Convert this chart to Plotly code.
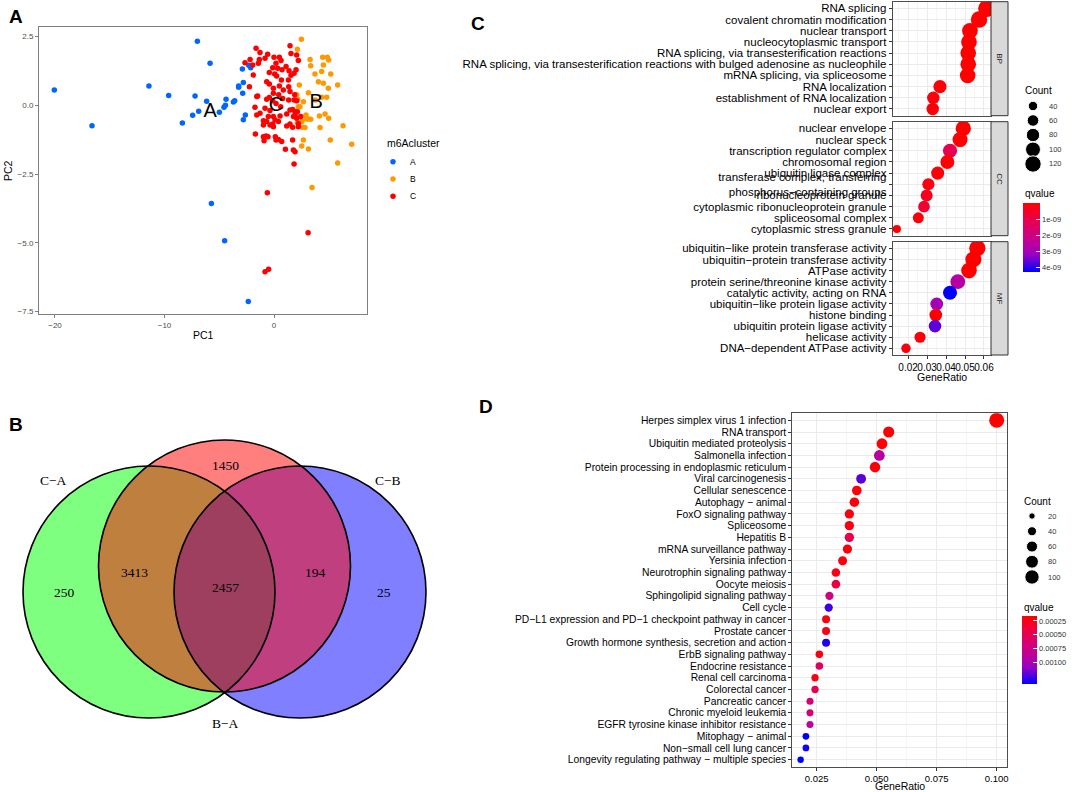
import plotly.graph_objects as go

W, H = 1072, 792
def px_x(p): return p / W
def px_y(p): return 1 - p / H

FONT = "Liberation Sans, Arial, sans-serif"
SERIF = "Liberation Serif, Times New Roman, serif"

# ---------------- Panel A data (PCA) ----------------
clusterA_pc1 = [-20.06, -16.62, -7.0, -5.84, -11.42, -9.62, -7.21, -6.15, -6.88, -7.43, -8.37, -4.99, -4.44,
                -4.38, -4.57, -3.71, -3.59, -3.23, -3.23, -2.86, -2.80, -2.89, -2.31, -2.13, -2.62, -2.80,
                -5.72, -4.51, -2.35]
clusterA_pc2 = [0.56, -0.74, 2.33, 1.53, 0.70, 0.36, 0.34, 0.15, -0.22, -0.36, -0.64, -0.25, 0.0,
                0.22, -0.07, 0.12, 0.17, 0.66, 0.70, 0.44, 0.83, 1.32, 1.46, 1.37, -0.35, -0.53,
                -3.57, -4.93, -7.14]
clusterB_pc1 = [2.50, 2.13, 3.29, 3.35, 4.44, 4.87, 4.99, 4.51, 4.35, 5.18, 3.74, 2.31, 4.05, 4.51, 4.96,
                5.81, 2.07, 2.16, 2.68, 3.14, 4.35, 4.81, 3.77, 2.37, 2.92, 3.14, 3.35, 2.53, 2.62, 4.14,
                4.66, 4.99, 4.20, 6.30, 7.09, 5.14, 2.68, 2.53, 3.14, 5.81, 3.47, 2.22, 2.13, 2.92, 2.83]
clusterB_pc2 = [2.40, 2.04, 1.67, 1.44, 1.75, 1.75, 1.65, 1.47, 1.23, 1.14, 1.14, 0.74, 0.86, 0.80, 0.62,
                0.74, 0.38, 0.22, 0.13, 0.46, 0.29, 0.29, 0.19, -0.05, -0.35, -0.50, -0.51, -0.59, -0.80, -0.39,
                -0.32, -0.47, -0.81, -0.74, -1.42, -1.26, -1.26, -1.48, -1.59, -2.10, -2.99, -0.05, -0.63, -0.50, -0.81]
clusterC_pc1 = [-1.64, -1.28, -2.19, -2.65, -1.95, -1.34, -1.43, -0.82, -0.58, 0.00, 0.49, 0.64, 0.18, 1.46,
                1.55, 2.07, 2.22, -0.12, 0.33, -0.43, 0.06, 0.73, 1.10, 1.37, 2.01, 1.83, 1.55, -1.89, -2.25,
                -0.67, -0.43, 0.24, 0.67, 1.31, 1.34, -0.06, 0.49, 0.85, 1.46, 1.89, -1.49, -1.58, -0.67,
                -0.43, -0.06, 0.43, -0.12, 0.79, 0.18, 0.61, 1.34, 1.83, 2.07, -1.74, -1.28, -1.58, -0.82,
                -0.37, -0.52, -0.97, -0.06, 0.55, -0.67, -0.12, 0.09, 0.40, 1.16, 1.46, 1.70, 1.92, 2.13,
                1.77, 2.07, 2.22, 1.46, 1.16, 1.70, 2.22, 2.44, 1.92, -0.06, -0.37, -0.97, -1.70, -0.97,
                -0.73, -0.55, 0.12, 0.40, 0.70, 0.18, 1.70, 1.77, 1.92, 1.04, -0.91, 1.83, -0.61, 3.11,
                -0.82, -0.49]
clusterC_pc2 = [2.08, 1.92, 1.67, 1.55, 1.47, 1.67, 1.53, 1.71, 1.86, 1.75, 1.75, 1.63, 1.53, 2.17,
                1.89, 1.83, 1.63, 1.37, 1.35, 1.19, 1.14, 1.29, 1.41, 1.26, 1.29, 1.17, 1.09, 1.10, 0.68,
                0.86, 0.78, 1.07, 0.92, 0.92, 0.68, 0.62, 0.70, 0.56, 0.50, 0.38, 0.34, 0.32, 0.22,
                0.28, 0.44, 0.38, 0.17, 0.25, 0.07, -0.05, 0.19, 0.19, 0.17, -0.07, -0.29, -0.35, -0.11,
                -0.19, -0.41, -0.56, -0.41, -0.39, -0.59, -0.68, -0.53, -0.59, -0.32, -0.17, -0.15, -0.23, -0.23,
                -0.41, -0.47, -0.66, -0.68, -0.75, -0.80, -0.78, -0.41, -0.35, -0.78, -0.72, -0.72, -1.04, -1.14,
                -1.12, -1.14, -1.14, -1.24, -1.32, -1.26, -1.26, -1.63, -1.69, -1.60, -1.29, -2.14, -3.18, -4.64,
                -6.06, -5.97]
cluster_names = ["A", "B", "C"]
cluster_colors = ["#0066FF", "#FF9900", "#FF0000"]
cluster_label_pc1 = [-5.84, 3.84, 0.18]
cluster_label_pc2 = [-0.24, 0.08, -0.03]
pc1_ticks = [-20, -10, 0]
pc2_ticks = [2.5, 0.0, -2.5, -5.0, -7.5]

# ---------------- Panel B data (Venn) ----------------
venn_set_names = ["C−A", "B−A", "C−B"]
venn_only_CA = 250
venn_only_BA = 1450
venn_only_CB = 25
venn_CA_BA = 3413
venn_BA_CB = 194
venn_all = 2457

# ---------------- Panel C data (GO) ----------------
bp_terms = ["RNA splicing", "covalent chromatin modification", "nuclear transport",
            "nucleocytoplasmic transport", "RNA splicing, via transesterification reactions",
            "RNA splicing, via transesterification reactions with bulged adenosine as nucleophile",
            "mRNA splicing, via spliceosome", "RNA localization", "establishment of RNA localization",
            "nuclear export"]
bp_ratio = [0.0614, 0.0574, 0.0526, 0.0521, 0.0517, 0.0517, 0.0514, 0.0368, 0.0333, 0.0330]
bp_count = [129, 121, 111, 110, 109, 109, 108, 77, 70, 69]
bp_q = [1e-13, 5e-11, 1e-12, 2e-12, 1e-12, 1e-12, 1e-12, 8e-11, 1.5e-10, 1.2e-10]

cc_terms = ["nuclear envelope", "nuclear speck", "transcription regulator complex", "chromosomal region",
            "ubiquitin ligase complex", "transferase complex, transferring phosphorus−containing groups",
            "ribonucleoprotein granule", "cytoplasmic ribonucleoprotein granule", "spliceosomal complex",
            "cytoplasmic stress granule"]
cc_ratio = [0.0491, 0.0474, 0.0421, 0.0407, 0.0356, 0.0307, 0.0298, 0.0284, 0.0254, 0.0141]
cc_count = [105, 101, 90, 87, 76, 66, 64, 61, 54, 30]
cc_q = [1e-12, 1e-11, 1.1e-9, 5e-11, 1e-10, 2.5e-10, 3.5e-10, 6.5e-10, 1e-10, 5e-11]

mf_terms = ["ubiquitin−like protein transferase activity", "ubiquitin−protein transferase activity",
            "ATPase activity", "protein serine/threonine kinase activity", "catalytic activity, acting on RNA",
            "ubiquitin−like protein ligase activity", "histone binding", "ubiquitin protein ligase activity",
            "helicase activity", "DNA−dependent ATPase activity"]
mf_ratio = [0.0565, 0.0544, 0.0521, 0.0462, 0.0421, 0.0351, 0.0346, 0.0342, 0.0263, 0.0189]
mf_count = [118, 114, 109, 97, 88, 73, 72, 71, 55, 40]
mf_q = [1e-12, 1e-12, 1e-11, 2.6e-9, 4.3e-9, 3.0e-9, 5e-11, 3.65e-9, 1e-10, 1e-10]

go_facets = ["BP", "CC", "MF"]
go_ratio_ticks = [0.02, 0.03, 0.04, 0.05, 0.06]
go_count_breaks = [40, 60, 80, 100, 120]
go_q_breaks = [1e-9, 2e-9, 3e-9, 4e-9]
go_q_labels = ["1e-09", "2e-09", "3e-09", "4e-09"]

# ---------------- Panel D data (KEGG) ----------------
kegg_terms = ["Herpes simplex virus 1 infection", "RNA transport", "Ubiquitin mediated proteolysis",
              "Salmonella infection", "Protein processing in endoplasmic reticulum", "Viral carcinogenesis",
              "Cellular senescence", "Autophagy − animal", "FoxO signaling pathway", "Spliceosome",
              "Hepatitis B", "mRNA surveillance pathway", "Yersinia infection", "Neurotrophin signaling pathway",
              "Oocyte meiosis", "Sphingolipid signaling pathway", "Cell cycle",
              "PD−L1 expression and PD−1 checkpoint pathway in cancer", "Prostate cancer",
              "Growth hormone synthesis, secretion and action", "ErbB signaling pathway", "Endocrine resistance",
              "Renal cell carcinoma", "Colorectal cancer", "Pancreatic cancer", "Chronic myeloid leukemia",
              "EGFR tyrosine kinase inhibitor resistance", "Mitophagy − animal", "Non−small cell lung cancer",
              "Longevity regulating pathway − multiple species"]
kegg_ratio = [0.1000, 0.0550, 0.0522, 0.0511, 0.0493, 0.0435, 0.0417, 0.0407, 0.0386, 0.0386,
              0.0386, 0.0378, 0.0358, 0.0330, 0.0330, 0.0303, 0.0300, 0.0289, 0.0289, 0.0289,
              0.0261, 0.0261, 0.0243, 0.0243, 0.0222, 0.0222, 0.0222, 0.0205, 0.0205, 0.0183]
kegg_count = [109, 60, 57, 56, 54, 47, 45, 44, 42, 42, 42, 41, 39, 36, 36, 33, 33, 31, 31, 31,
              28, 28, 26, 26, 24, 24, 24, 22, 22, 20]
kegg_q = [0.00016, 0.00017, 0.00018, 0.0009, 0.0002, 0.00121, 0.00019, 0.0002, 0.00021, 0.00022,
          0.00043, 0.0002, 0.00022, 0.00024, 0.0004, 0.00072, 0.00128, 0.00022, 0.00024, 0.00134,
          0.00022, 0.00053, 0.00024, 0.0005, 0.00066, 0.00068, 0.00084, 0.0014, 0.00136, 0.0014]
kegg_ratio_ticks = [0.025, 0.050, 0.075, 0.100]
kegg_count_breaks = [20, 40, 60, 80, 100]
kegg_q_breaks = [0.00025, 0.00050, 0.00075, 0.00100]
kegg_q_labels = ["0.00025", "0.00050", "0.00075", "0.00100"]

# ---------------- styling ----------------
GRID = "#EBEBEB"
BORDER = "#4D4D4D"
# ggplot-like Lab interpolation red -> blue (scale is on negated q so red = low q at top)
CSCALE = [[0, "#0000FF"], [0.25, "#9A00C3"], [0.5, "#CA0089"], [0.75, "#E8004F"], [1, "#FF0000"]]
C_MAXD, D_MAXD = 17, 15
c_sizeref = 2 * max(bp_count + cc_count + mf_count) / C_MAXD ** 2
d_sizeref = 2 * max(kegg_count) / D_MAXD ** 2

fig = go.Figure()
annotations = []
shapes = []

def ann(text, x, y, size, xanchor="center", yanchor="middle", bold=False, family=FONT, color="black",
        angle=0, xref="paper", yref="paper"):
    annotations.append(dict(text=("<b>%s</b>" % text) if bold else text, x=x, y=y, xref=xref, yref=yref,
                            xanchor=xanchor, yanchor=yanchor, showarrow=False, textangle=angle,
                            font=dict(size=size, family=family, color=color)))

# ---------------- Panel A ----------------
for nm, xs, ys, col in zip(cluster_names, [clusterA_pc1, clusterB_pc1, clusterC_pc1],
                           [clusterA_pc2, clusterB_pc2, clusterC_pc2], cluster_colors):
    fig.add_trace(go.Scatter(x=xs, y=ys, mode="markers", marker=dict(size=5.5, color=col, opacity=1),
                             xaxis="x", yaxis="y", hoverinfo="skip"))
fig.add_trace(go.Scatter(x=cluster_label_pc1, y=cluster_label_pc2, text=cluster_names, mode="text",
                         textfont=dict(size=20, family=FONT, color="black"), xaxis="x", yaxis="y"))
# legend keys
fig.add_trace(go.Scatter(x=[0, 0, 0], y=cluster_names, mode="markers",
                         marker=dict(size=5.5, color=cluster_colors, opacity=1), xaxis="x9", yaxis="y9"))
for nm in cluster_names:
    ann(nm, px_x(408), nm, 8.5, xanchor="left", yref="y9")
ann("m6Acluster", px_x(385), px_y(143), 10.5, xanchor="left")
ann("PC1", px_x(203), px_y(335), 10.5)
ann("PC2", px_x(8), px_y(171), 10.5, angle=-90)

# ---------------- Panel B (Venn) ----------------
venn_circles = {"green": (149, 592, "rgba(0,255,0,0.5)"),
                "blue": (300, 592, "rgba(0,0,255,0.5)"),
                "red": (224.5, 566, "rgba(255,0,0,0.5)")}
R = 126
for key in ["green", "blue", "red"]:
    cx, cy, fc = venn_circles[key]
    shapes.append(dict(type="circle", xref="x6", yref="y6", x0=cx - R, x1=cx + R, y0=cy - R, y1=cy + R,
                       fillcolor=fc, line=dict(width=0), layer="above"))
for key in ["green", "blue", "red"]:
    cx, cy, fc = venn_circles[key]
    shapes.append(dict(type="circle", xref="x6", yref="y6", x0=cx - R, x1=cx + R, y0=cy - R, y1=cy + R,
                       fillcolor="rgba(0,0,0,0)", line=dict(width=1.6, color="black"), layer="above"))
venn_text = [(venn_set_names[0], 53, 480), (venn_set_names[2], 388, 480), (venn_set_names[1], 225, 723),
             (str(venn_only_BA), 225, 465), (str(venn_CA_BA), 134, 572), (str(venn_all), 225, 587),
             (str(venn_BA_CB), 315, 572), (str(venn_only_CA), 64, 592), (str(venn_only_CB), 384, 592)]
for t, x, y in venn_text:
    ann(t, x, y, 13.5, family=SERIF, xref="x6", yref="y6")

# ---------------- Panel C (GO dot plot) ----------------
for i, (terms, ratio, count, q) in enumerate([(bp_terms, bp_ratio, bp_count, bp_q),
                                               (cc_terms, cc_ratio, cc_count, cc_q),
                                               (mf_terms, mf_ratio, mf_count, mf_q)]):
    fig.add_trace(go.Scatter(x=ratio, y=terms, mode="markers",
                             marker=dict(size=count, sizemode="area", sizeref=c_sizeref, opacity=1,
                                         color=[-v for v in q], coloraxis="coloraxis", line=dict(width=0)),
                             xaxis="x%d" % (i + 2), yaxis="y%d" % (i + 2)))
fig.add_trace(go.Scatter(x=[0] * len(go_count_breaks), y=go_count_breaks, mode="markers",
                         marker=dict(size=go_count_breaks, sizemode="area", sizeref=c_sizeref, color="black",
                                     opacity=1),
                         xaxis="x7", yaxis="y7"))
for b in go_count_breaks:
    ann(str(b), px_x(1047), b, 7.5, xanchor="left", yref="y7", color="#333333")
ann("Count", px_x(1023), px_y(90), 10, xanchor="left")
ann("qvalue", px_x(1023), px_y(194), 10, xanchor="left")
ann("GeneRatio", px_x(941.8), px_y(377), 10.5)

facet_px = [(1.7, 115.7), (121.7, 235.7), (241.7, 355.0)]
for name, (t, b) in zip(go_facets, facet_px):
    shapes.append(dict(type="rect", xref="paper", yref="paper", x0=px_x(991), x1=px_x(1008),
                       y0=px_y(b), y1=px_y(t), fillcolor="#D9D9D9", line=dict(color="#333333", width=1),
                       layer="above"))
    ann(name, px_x(999.5), px_y((t + b) / 2), 8, angle=90, color="#1A1A1A")

# ---------------- Panel D (KEGG dot plot) ----------------
fig.add_trace(go.Scatter(x=kegg_ratio, y=kegg_terms, mode="markers",
                         marker=dict(size=kegg_count, sizemode="area", sizeref=d_sizeref, opacity=1,
                                     color=[-v for v in kegg_q], coloraxis="coloraxis2", line=dict(width=0)),
                         xaxis="x5", yaxis="y5"))
fig.add_trace(go.Scatter(x=[0] * len(kegg_count_breaks), y=kegg_count_breaks, mode="markers",
                         marker=dict(size=kegg_count_breaks, sizemode="area", sizeref=d_sizeref, color="black",
                                     opacity=1),
                         xaxis="x8", yaxis="y8"))
for b in kegg_count_breaks:
    ann(str(b), px_x(1046), b, 7.5, xanchor="left", yref="y8", color="#333333")
ann("Count", px_x(1022), px_y(501), 10, xanchor="left")
ann("qvalue", px_x(1022), px_y(607), 10, xanchor="left")
ann("GeneRatio", px_x(899.5), px_y(786), 10.5)

# panel letters
ann("A", px_x(16), px_y(16), 19, bold=True)
ann("B", px_x(16), px_y(424), 19, bold=True)
ann("C", px_x(478), px_y(23.5), 19, bold=True)
ann("D", px_x(486), px_y(407), 19, bold=True)

# ---------------- axes ----------------
def box_axis(**kw):
    d = dict(showline=True, mirror=True, linecolor=BORDER, linewidth=1, zeroline=False,
             ticks="outside", ticklen=3, tickcolor="#333333", automargin=False, tickangle=0)
    d.update(kw)
    return d

layout = dict(width=W, height=H, margin=dict(l=0, r=0, t=0, b=0), template="none",
              paper_bgcolor="white", plot_bgcolor="white", showlegend=False, hovermode=False,
              font=dict(family=FONT, color="black"))

# A
layout["xaxis"] = box_axis(domain=[px_x(39), px_x(367)], range=[-21.46, 8.49], tickvals=pc1_ticks,
                           showgrid=False, linecolor="#7F7F7F", tickcolor="#7F7F7F", anchor="y",
                           tickfont=dict(size=8, color="#4D4D4D"))
layout["yaxis"] = box_axis(domain=[px_y(314), px_y(27)], range=[-7.595, 2.85], tickvals=pc2_ticks,
                           tickformat=".1f", showgrid=False, linecolor="#7F7F7F", tickcolor="#7F7F7F",
                           anchor="x", tickfont=dict(size=8, color="#4D4D4D"))

# C facets
minor_c = dict(tickvals=[0.015, 0.025, 0.035, 0.045, 0.055], showgrid=True, gridcolor=GRID, gridwidth=0.5)
for i, (terms, (t, b)) in enumerate(zip([bp_terms, cc_terms, mf_terms], facet_px)):
    n = i + 2
    last = (i == 2)
    layout["xaxis%d" % n] = box_axis(domain=[px_x(892.7), px_x(991)], range=[0.0119, 0.0637],
                                     tickmode="array", tickvals=go_ratio_ticks,
                                     ticktext=["%.2f" % v for v in go_ratio_ticks],
                                     showticklabels=last, ticks="outside" if last else "",
                                     showgrid=True, gridcolor=GRID, gridwidth=1, minor=minor_c,
                                     anchor="y%d" % n, tickfont=dict(size=10, color="black"))
    ticktext = [s.replace("transferring ", "transferring<br>") for s in terms]
    layout["yaxis%d" % n] = box_axis(domain=[px_y(b), px_y(t)], type="category",
                                     categoryorder="array", categoryarray=terms[::-1],
                                     tickmode="array", tickvals=terms, ticktext=ticktext,
                                     range=[-0.6, len(terms) - 0.4], showgrid=True, gridcolor=GRID,
                                     anchor="x%d" % n, tickfont=dict(size=11.5, color="black"))

# D
layout["xaxis5"] = box_axis(domain=[px_x(792.3), px_x(1006.7)], range=[0.01483, 0.10417],
                            tickmode="array", tickvals=kegg_ratio_ticks,
                            ticktext=["%.3f" % v for v in kegg_ratio_ticks],
                            showgrid=True, gridcolor=GRID, gridwidth=1,
                            minor=dict(tickvals=[0.0375, 0.0625, 0.0875], showgrid=True, gridcolor=GRID,
                                       gridwidth=0.5),
                            anchor="y5", tickfont=dict(size=9.5, color="black"))
layout["yaxis5"] = box_axis(domain=[px_y(766.7), px_y(413.3)], type="category", categoryorder="array",
                            categoryarray=kegg_terms[::-1], tickmode="array", tickvals=kegg_terms,
                            ticktext=kegg_terms, range=[-0.6, len(kegg_terms) - 0.4],
                            showgrid=True, gridcolor=GRID, anchor="x5",
                            tickfont=dict(size=10.3, color="black"))

# Venn canvas (equal pixel scale)
layout["xaxis6"] = dict(domain=[0, px_x(470)], range=[0, 470], visible=False, anchor="y6")
layout["yaxis6"] = dict(domain=[px_y(780), px_y(380)], range=[780, 380], visible=False, anchor="x6")

# legend canvases
layout["xaxis7"] = dict(domain=[px_x(1023), px_x(1043)], range=[-1, 1], visible=False, anchor="y7")
layout["yaxis7"] = dict(domain=[px_y(175), px_y(95)], range=[135.2, 24.8], visible=False, anchor="x7")
layout["xaxis8"] = dict(domain=[px_x(1022), px_x(1042)], range=[-1, 1], visible=False, anchor="y8")
layout["yaxis8"] = dict(domain=[px_y(590), px_y(505)], range=[117.05, 5.57], visible=False, anchor="x8")
layout["xaxis9"] = dict(domain=[px_x(388), px_x(398)], range=[-1, 1], visible=False, anchor="y9")
layout["yaxis9"] = dict(domain=[px_y(205), px_y(153)], type="category", categoryorder="array",
                        categoryarray=cluster_names, range=[2.5, -0.5], visible=False, anchor="x9")

allq_c = bp_q + cc_q + mf_q
layout["coloraxis"] = dict(colorscale=CSCALE, cmin=-max(allq_c), cmax=-min(allq_c),
                           colorbar=dict(x=px_x(1023), xanchor="left", y=px_y(203), yanchor="top",
                                         len=69, lenmode="pixels", thickness=17, thicknessmode="pixels",
                                         xpad=0, ypad=0, outlinewidth=0,
                                         tickmode="array",
                                         tickvals=[-v for v in go_q_breaks], ticktext=go_q_labels,
                                         ticks="inside", ticklen=4, tickcolor="white",
                                         tickfont=dict(size=7.5, color="#333333")))
layout["coloraxis2"] = dict(colorscale=CSCALE, cmin=-max(kegg_q), cmax=-min(kegg_q),
                            colorbar=dict(x=px_x(1022), xanchor="left", y=px_y(616), yanchor="top",
                                          len=68, lenmode="pixels", thickness=15, thicknessmode="pixels",
                                          xpad=0, ypad=0, outlinewidth=0,
                                          tickmode="array",
                                          tickvals=[-v for v in kegg_q_breaks], ticktext=kegg_q_labels,
                                          ticks="inside", ticklen=4, tickcolor="white",
                                          tickfont=dict(size=7.5, color="#333333")))
layout["annotations"] = annotations
layout["shapes"] = shapes
fig.update_layout(**layout)
fig.write_html("out.html", config={"displayModeBar": False, "staticPlot": True},
               post_script="document.body.style.margin='0px';document.body.style.overflow='hidden';")
